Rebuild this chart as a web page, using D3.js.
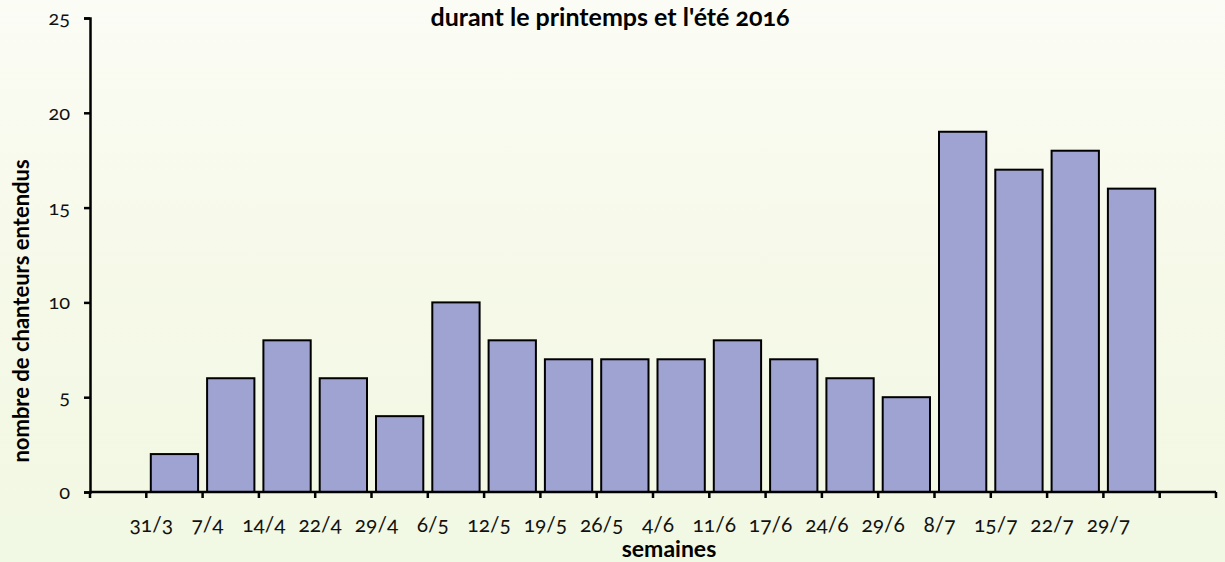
<!DOCTYPE html>
<html lang="fr">
<head>
  <meta charset="UTF-8">
  <script src="https://d3js.org/d3.v7.min.js"></script>
  <title>Chanteurs entendus</title>
  <style>
    body { margin: 0; }
    text { font-family: Lato, "Open Sans", sans-serif; font-feature-settings: "onum"; }
  </style>
</head>
<body>
<script>
  // Données
  const weeks = ["31/3", "7/4", "14/4", "22/4", "29/4", "6/5", "12/5", "19/5", "26/5",
                 "4/6", "11/6", "17/6", "24/6", "29/6", "8/7", "15/7", "22/7", "29/7"]
  const singers = [2, 6, 8, 6, 4, 10, 8, 7, 7, 7, 8, 7, 6, 5, 19, 17, 18, 16]
  const yTicks = [0, 5, 10, 15, 20, 25]

  const width = 1225
  const height = 562
  const x0 = 90, x1 = 1216, yTop = 18, yBottom = 492

  let svg = d3.select("body").append("svg")
              .attr("width", width)
              .attr("height", height)

  // fond en dégradé
  let defs = svg.append("defs")
  let grad = defs.append("linearGradient").attr("id", "bg")
                 .attr("x1", 0).attr("y1", 0).attr("x2", 0).attr("y2", 1)
  grad.append("stop").attr("offset", "0%").attr("stop-color", "#fbfcf5")
  grad.append("stop").attr("offset", "50%").attr("stop-color", "#f6f9e8")
  grad.append("stop").attr("offset", "100%").attr("stop-color", "#f1f8e3")
  svg.append("rect").attr("width", width).attr("height", height).attr("fill", "url(#bg)")

  // échelles : un créneau vide de chaque côté
  let nSlots = weeks.length + 2
  let x = d3.scaleLinear().domain([0, nSlots]).range([x0, x1])
  let y = d3.scaleLinear().domain([0, 25]).range([yBottom, yTop])
  let slot = x(1) - x(0)
  let pad = 4.5

  // barres
  svg.selectAll("rect.bar")
     .data(singers)
     .enter()
     .append("rect")
     .attr("class", "bar")
     .attr("x", (d, i) => x(i + 1) + pad)
     .attr("width", slot - 2 * pad)
     .attr("y", d => y(d))
     .attr("height", d => y(0) - y(d))
     .attr("fill", "#9ea3d1")
     .attr("stroke", "#000")
     .attr("stroke-width", 2)

  // axe Y
  let yAxis = d3.axisLeft(y).tickValues(yTicks).tickSize(6).tickPadding(14)
  let gy = svg.append("g").attr("transform", `translate(${x0},0)`).call(yAxis)
  gy.select(".domain").attr("stroke-width", 2.5)
  gy.selectAll(".tick line").attr("stroke-width", 2.5)
  gy.selectAll(".tick text").attr("font-size", 20).attr("fill", "#111")

  // axe X : graduations à chaque limite de créneau
  let gx = svg.append("g").attr("transform", `translate(0,${yBottom})`)
  gx.append("line").attr("x1", x0).attr("x2", x1).attr("stroke", "#000").attr("stroke-width", 2.5)
  gx.selectAll("line.tick")
    .data(d3.range(0, nSlots + 1))
    .enter()
    .append("line")
    .attr("class", "tick")
    .attr("x1", d => x(d)).attr("x2", d => x(d))
    .attr("y1", 0).attr("y2", 6)
    .attr("stroke", "#000").attr("stroke-width", 2.5)
  gx.selectAll("text.lbl")
    .data(weeks)
    .enter()
    .append("text")
    .attr("class", "lbl")
    .attr("x", (d, i) => x(i + 1) + 5)
    .attr("y", 40)
    .attr("text-anchor", "middle")
    .attr("font-size", 21)
    .attr("fill", "#111")
    .text(d => d)

  // titres
  svg.append("text")
     .attr("x", 610).attr("y", 26)
     .attr("text-anchor", "middle")
     .attr("font-size", 25).attr("font-weight", "bold")
     .text("durant le printemps et l'été 2016")

  svg.append("text")
     .attr("x", 669).attr("y", 557)
     .attr("text-anchor", "middle")
     .attr("font-size", 23).attr("font-weight", "bold")
     .text("semaines")

  svg.append("text")
     .attr("transform", "translate(29,311) rotate(-90)")
     .attr("text-anchor", "middle")
     .attr("font-size", 22).attr("font-weight", "bold")
     .text("nombre de chanteurs entendus")
</script>
</body>
</html>
